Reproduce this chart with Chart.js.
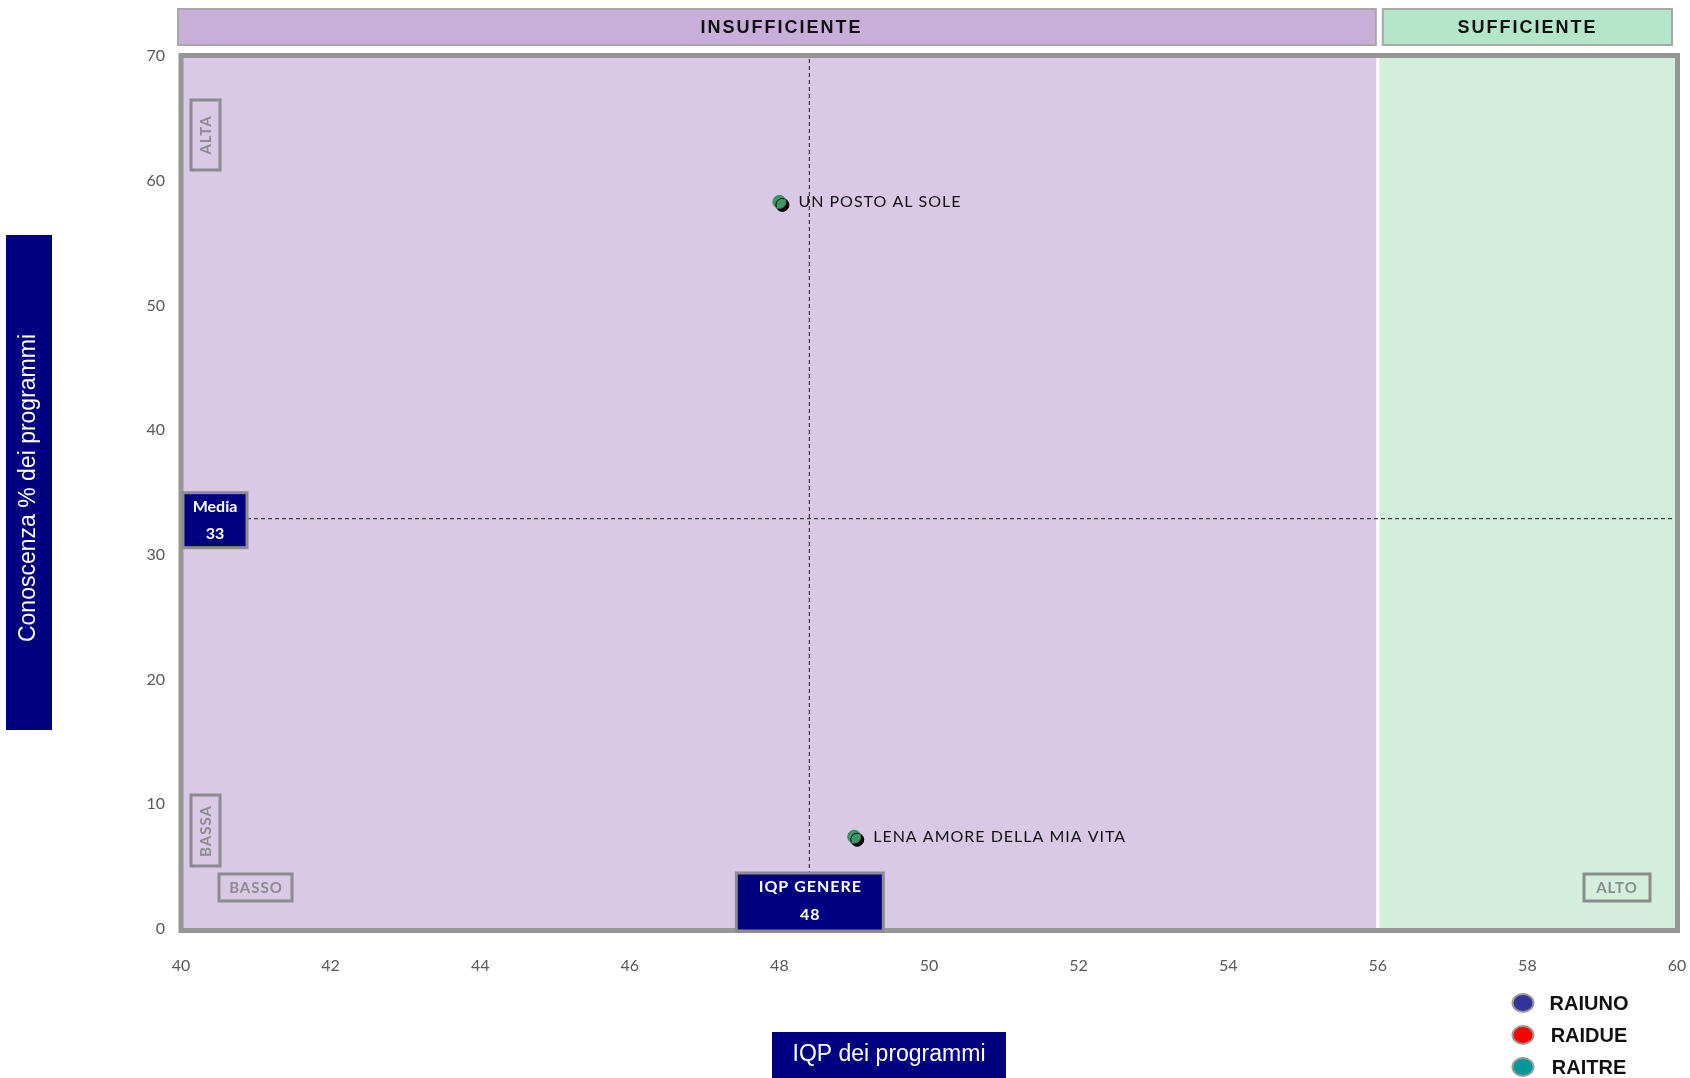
<!DOCTYPE html>
<html lang="it">
<head>
<meta charset="utf-8">
<script src="https://cdn.jsdelivr.net/npm/chart.js"></script>
<style>
  body { margin: 0; background: #fff; }
  canvas { display: block; }
</style>
</head>
<body>
<canvas id="graficoIqp" width="1690" height="1078"></canvas>
<script>
// valori
const programmi = ['UN POSTO AL SOLE', 'LENA AMORE DELLA MIA VITA'];
const iqpProgrammi = [48.0, 49.0];
const conoscenzaProgrammi = [58.3, 7.4];
const iqpGenere = 48.4;
const iqpGenereEtichetta = '48';
const mediaConoscenza = 32.9;
const mediaEtichetta = '33';
const sogliaSufficienza = 56;
const fasce = ['INSUFFICIENTE', 'SUFFICIENTE'];
const reti = ['RAIUNO', 'RAIDUE', 'RAITRE'];
const coloriReti = ['#333399', '#ff0000', '#009999'];
const xMin = 40, xMax = 60, xPasso = 2;
const yMin = 0, yMax = 70, yPasso = 10;

const fontGot = "Lato, 'DejaVu Sans', sans-serif";
const fontArial = "'Liberation Sans', Arial, sans-serif";

function box(ctx, x, y, w, h, fill, stroke, lw) {
  if (fill) { ctx.fillStyle = fill; ctx.fillRect(x, y, w, h); }
  if (stroke) { ctx.strokeStyle = stroke; ctx.lineWidth = lw; ctx.strokeRect(x, y, w, h); }
}

// sfondi, cornice, fasce e linee medie
const sfondo = {
  id: 'sfondo',
  beforeDatasetsDraw(chart) {
    const { ctx, chartArea: a, scales: { x, y } } = chart;
    const xs = x.getPixelForValue(sogliaSufficienza);
    ctx.save();
    ctx.fillStyle = '#d9c8e6';
    ctx.fillRect(a.left, a.top, xs - a.left, a.height);
    ctx.fillStyle = '#d3eedd';
    ctx.fillRect(xs, a.top, a.right - xs, a.height);
    ctx.strokeStyle = '#fff';
    ctx.lineWidth = 3;
    ctx.beginPath(); ctx.moveTo(xs, a.top); ctx.lineTo(xs, a.bottom); ctx.stroke();

    ctx.strokeStyle = '#969696';
    ctx.lineWidth = 5;
    ctx.strokeRect(a.left, a.top - 0.5, a.width + 0.5, a.height + 2);

    // fasce in alto
    const x0 = x.getPixelForValue(xMin), x1 = x.getPixelForValue(xMax);
    box(ctx, x0 - 3, 9, xs - x0 + 1, 36, '#c8aed8', '#a8a8a8', 2);
    box(ctx, xs + 5, 9, x1 - xs - 10, 36, '#b4e6cb', '#a8a8a8', 2);
    ctx.fillStyle = '#111';
    ctx.font = 'bold 18px ' + fontArial;
    ctx.letterSpacing = '2px';
    ctx.textAlign = 'center';
    ctx.textBaseline = 'middle';
    ctx.fillText(fasce[0], (x0 + xs) / 2 + 2, 28);
    ctx.fillText(fasce[1], (xs + x1) / 2, 28);
    ctx.letterSpacing = '0px';

    // linee tratteggiate
    const xg = x.getPixelForValue(iqpGenere);
    const ym = y.getPixelForValue(mediaConoscenza);
    ctx.strokeStyle = '#1a1a1a';
    ctx.lineWidth = 1;
    ctx.setLineDash([4, 3]);
    ctx.beginPath();
    ctx.moveTo(xg, a.top + 3); ctx.lineTo(xg, a.bottom - 56);
    ctx.moveTo(a.left + 66, ym); ctx.lineTo(a.right - 2, ym);
    ctx.stroke();
    ctx.setLineDash([]);

    // titoli assi
    ctx.fillStyle = '#000080';
    ctx.fillRect(6, 235, 46, 495);
    ctx.fillRect(772, 1032, 234, 46);
    ctx.fillStyle = '#fff';
    ctx.font = '23px ' + fontArial;
    ctx.fillText('IQP dei programmi', 889, 1055);
    ctx.translate(29, 488);
    ctx.rotate(-Math.PI / 2);
    ctx.fillText('Conoscenza % dei programmi', 0, 0);
    ctx.restore();
  }
};

// ombra dei punti
const ombra = {
  id: 'ombra',
  beforeDatasetDraw(chart) {
    const ctx = chart.ctx;
    ctx.save();
    ctx.shadowColor = '#000';
    ctx.shadowOffsetX = 3;
    ctx.shadowOffsetY = 3;
    ctx.shadowBlur = 0;
  },
  afterDatasetDraw(chart) {
    chart.ctx.restore();
  }
};

// etichette, riquadri e legenda
const etichette = {
  id: 'etichette',
  afterDatasetsDraw(chart) {
    const { ctx, chartArea: a, scales: { x, y } } = chart;
    ctx.save();
    ctx.textBaseline = 'middle';

    // nomi dei programmi
    ctx.fillStyle = '#111';
    ctx.font = '16px ' + fontGot;
    ctx.letterSpacing = '1px';
    ctx.textAlign = 'left';
    programmi.forEach((p, i) => {
      ctx.fillText(p, x.getPixelForValue(iqpProgrammi[i]) + 19, y.getPixelForValue(conoscenzaProgrammi[i]));
    });

    // riquadro media
    const ym = y.getPixelForValue(mediaConoscenza);
    box(ctx, a.left + 2, ym - 26, 64, 55, '#000080', '#8c8c8c', 3);
    ctx.fillStyle = '#fff';
    ctx.textAlign = 'center';
    ctx.font = 'bold 16px ' + fontGot;
    ctx.letterSpacing = '0px';
    ctx.fillText('Media', a.left + 34, ym - 12);
    ctx.fillText(mediaEtichetta, a.left + 34, ym + 15);

    // riquadro IQP genere
    const xg = x.getPixelForValue(iqpGenere);
    box(ctx, xg - 73, a.bottom - 56, 147, 58, '#000080', '#8c8c8c', 3);
    ctx.fillStyle = '#fff';
    ctx.letterSpacing = '1px';
    ctx.fillText('IQP GENERE', xg + 1, a.bottom - 42);
    ctx.fillText(iqpGenereEtichetta, xg + 1, a.bottom - 14);

    // etichette degli angoli
    ctx.strokeStyle = '#8c8c8c';
    ctx.fillStyle = '#8c8c8c';
    ctx.lineWidth = 3;
    ctx.font = 'bold 15px ' + fontGot;
    ctx.strokeRect(a.left + 10, a.top + 44, 29, 70);
    ctx.strokeRect(a.left + 10, a.bottom - 134, 29, 71);
    ctx.strokeRect(a.left + 38, a.bottom - 55, 73, 27);
    ctx.strokeRect(a.right - 93, a.bottom - 55, 66, 27);
    ctx.fillText('BASSO', a.left + 75, a.bottom - 41);
    ctx.fillText('ALTO', a.right - 60, a.bottom - 41);
    ctx.save();
    ctx.translate(a.left + 25, a.top + 79);
    ctx.rotate(-Math.PI / 2);
    ctx.fillText('ALTA', 0, 0);
    ctx.restore();
    ctx.save();
    ctx.translate(a.left + 25, a.bottom - 98);
    ctx.rotate(-Math.PI / 2);
    ctx.fillText('BASSA', 0, 0);
    ctx.restore();

    // legenda
    ctx.letterSpacing = '0px';
    ctx.font = 'bold 20px ' + fontArial;
    reti.forEach((r, i) => {
      const cy = 1003 + i * 32;
      ctx.beginPath();
      ctx.ellipse(1523, cy, 10.5, 9, 0, 0, Math.PI * 2);
      ctx.fillStyle = coloriReti[i];
      ctx.fill();
      ctx.strokeStyle = '#9a9a9a';
      ctx.lineWidth = 2;
      ctx.stroke();
      ctx.fillStyle = '#111';
      ctx.fillText(r, 1589, cy + 1);
    });
    ctx.restore();
  }
};

new Chart(document.getElementById('graficoIqp'), {
  type: 'scatter',
  data: {
    datasets: [{
      label: 'Programmi',
      data: programmi.map((p, i) => ({ x: iqpProgrammi[i], y: conoscenzaProgrammi[i] })),
      backgroundColor: '#3a9a66',
      borderColor: '#2f8a5a',
      borderWidth: 1,
      pointRadius: 6.5,
      pointHoverRadius: 6.5
    }]
  },
  options: {
    responsive: false,
    animation: false,
    events: [],
    layout: { padding: { left: 0, top: 56, right: 13, bottom: 0 } },
    plugins: { legend: { display: false }, tooltip: { enabled: false } },
    scales: {
      x: {
        type: 'linear', min: xMin, max: xMax,
        grid: { display: false, drawTicks: false },
        border: { display: false },
        ticks: { stepSize: xPasso, padding: 27, color: '#595959', font: { family: fontGot, size: 16 } },
        afterFit(s) { s.height = 149; s.paddingLeft = 0; s.paddingRight = 0; }
      },
      y: {
        type: 'linear', min: yMin, max: yMax,
        grid: { display: false, drawTicks: false },
        border: { display: false },
        ticks: { stepSize: yPasso, padding: 16, color: '#595959', font: { family: fontGot, size: 16 } },
        afterFit(s) { s.width = 181; s.paddingTop = 0; s.paddingBottom = 0; }
      }
    }
  },
  plugins: [sfondo, ombra, etichette]
});
</script>
</body>
</html>
